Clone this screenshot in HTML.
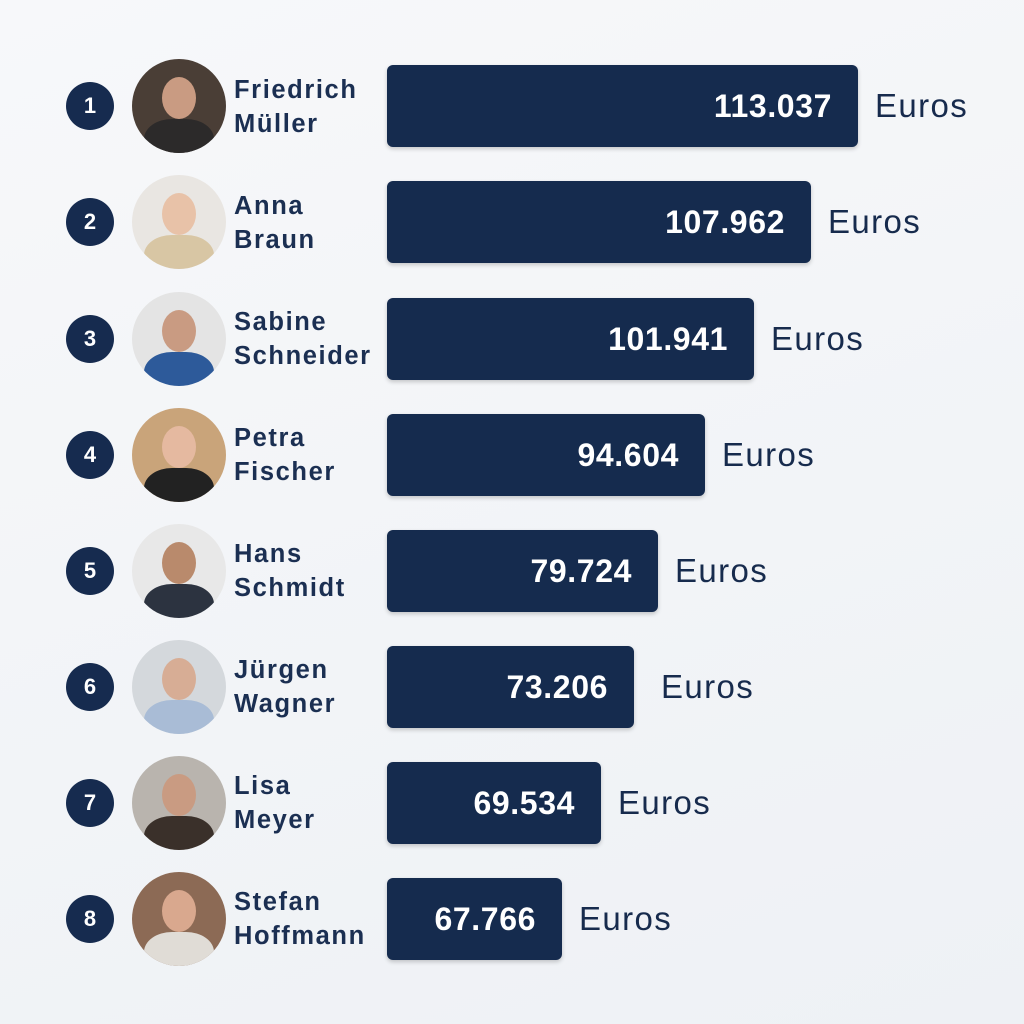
<!DOCTYPE html>
<html><head><meta charset="utf-8"><style>
body{margin:0;width:1024px;height:1024px;background:linear-gradient(160deg,#f7f8fa,#eef1f5);font-family:"Liberation Sans",sans-serif;position:relative;overflow:hidden;color:#172b4d}
.n{position:absolute;left:66px;width:48px;height:48px;border-radius:50%;background:#162b4f;color:#fff;font-weight:bold;font-size:22px;text-align:center;line-height:48px}
.a{position:absolute;left:132px;width:94px;height:94px;border-radius:50%;overflow:hidden}
.a .f{position:absolute;left:30px;top:18px;width:34px;height:42px;border-radius:50%;background:#c99b82}
.a .b{position:absolute;left:12px;top:60px;width:70px;height:50px;border-radius:40% 40% 0 0}
.nm{position:absolute;left:234px;font-weight:bold;font-size:25.5px;line-height:34px;color:#1b2f52;letter-spacing:1.6px}
.bar{position:absolute;left:387px;height:82px;border-radius:6px;background:#152b4e;box-shadow:0 2px 4px rgba(0,0,0,.2);color:#fff;font-weight:bold;font-size:32px;letter-spacing:0.6px;line-height:82px;text-align:right;box-sizing:border-box;padding-right:26px}
.e{position:absolute;font-size:33px;letter-spacing:1.4px;line-height:82px;color:#172b4d}
</style></head><body>
<div class="n" style="top:82px">1</div><div class="a" style="top:59px;background:#4a3e36"><div class="f"></div><div class="b" style="background:#2c2a2a"></div></div><div class="nm" style="top:73px">Friedrich<br>Müller</div><div class="bar" style="top:65px;width:471px">113.037</div><div class="e" style="top:65px;left:875px">Euros</div>
<div class="n" style="top:198px">2</div><div class="a" style="top:175px;background:#e9e6e2"><div class="f" style="background:#e8c2a8"></div><div class="b" style="background:#d8c6a4"></div></div><div class="nm" style="top:189px">Anna<br>Braun</div><div class="bar" style="top:181px;width:424px">107.962</div><div class="e" style="top:181px;left:828px">Euros</div>
<div class="n" style="top:315px">3</div><div class="a" style="top:292px;background:#e4e4e4"><div class="f"></div><div class="b" style="background:#2d5a9a"></div></div><div class="nm" style="top:305px">Sabine<br>Schneider</div><div class="bar" style="top:298px;width:367px">101.941</div><div class="e" style="top:298px;left:771px">Euros</div>
<div class="n" style="top:431px">4</div><div class="a" style="top:408px;background:#c9a47a"><div class="f" style="background:#e5b9a0"></div><div class="b" style="background:#222"></div></div><div class="nm" style="top:421px">Petra<br>Fischer</div><div class="bar" style="top:414px;width:318px">94.604</div><div class="e" style="top:414px;left:722px">Euros</div>
<div class="n" style="top:547px">5</div><div class="a" style="top:524px;background:#e8e8e8"><div class="f" style="background:#b98a6c"></div><div class="b" style="background:#2c3340"></div></div><div class="nm" style="top:537px">Hans<br>Schmidt</div><div class="bar" style="top:530px;width:271px">79.724</div><div class="e" style="top:530px;left:675px">Euros</div>
<div class="n" style="top:663px">6</div><div class="a" style="top:640px;background:#d4d8dc"><div class="f" style="background:#d7ad95"></div><div class="b" style="background:#a9bcd6"></div></div><div class="nm" style="top:653px">Jürgen<br>Wagner</div><div class="bar" style="top:646px;width:247px">73.206</div><div class="e" style="top:646px;left:661px">Euros</div>
<div class="n" style="top:779px">7</div><div class="a" style="top:756px;background:#b9b4ae"><div class="f"></div><div class="b" style="background:#3a302a"></div></div><div class="nm" style="top:769px">Lisa<br>Meyer</div><div class="bar" style="top:762px;width:214px">69.534</div><div class="e" style="top:762px;left:618px">Euros</div>
<div class="n" style="top:895px">8</div><div class="a" style="top:872px;background:#8c6a55"><div class="f" style="background:#d9a88e"></div><div class="b" style="background:#e0dcd6"></div></div><div class="nm" style="top:885px">Stefan<br>Hoffmann</div><div class="bar" style="top:878px;width:175px">67.766</div><div class="e" style="top:878px;left:579px">Euros</div>
</body></html>
